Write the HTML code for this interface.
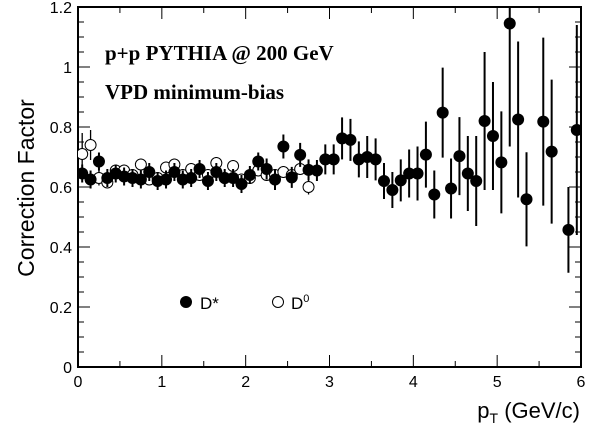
<!DOCTYPE html>
<html><head><meta charset="utf-8"><style>
body{margin:0;background:#fff}
svg{display:block;font-family:"Liberation Sans",sans-serif}
</style></head><body>
<svg id="chart" width="600" height="431">
<g id="axes"></g><g id="marks"></g>
<text x="105" y="60" font-family="Liberation Serif" font-weight="bold" font-size="21">p+p PYTHIA @ 200 GeV</text>
<text x="105" y="99" font-family="Liberation Serif" font-weight="bold" font-size="21">VPD minimum-bias</text>
<text transform="translate(34,188) rotate(-90)" text-anchor="middle" font-size="23">Correction Factor</text>
<text x="580" y="418" text-anchor="end" font-size="22">p<tspan font-size="14" dy="5">T</tspan><tspan dy="-5"> (GeV/c)</tspan></text>
<g>
<circle cx="186" cy="302" r="6" fill="#000"/>
<text x="200" y="309" font-size="17">D*</text>
<circle cx="278" cy="302" r="5.5" fill="#fff" stroke="#000" stroke-width="1"/>
<text x="291" y="309" font-size="17">D<tspan font-size="11" dy="-7">0</tspan></text>
</g>
</svg>
<script>
const dstarPt=[0.05,0.15,0.25,0.35,0.45,0.55,0.65,0.75,0.85,0.95,1.05,1.15,1.25,1.35,1.45,1.55,1.65,1.75,1.85,1.95,2.05,2.15,2.25,2.35,2.45,2.55,2.65,2.75,2.85,2.95,3.05,3.15,3.25,3.35,3.45,3.55,3.65,3.75,3.85,3.95,4.05,4.15,4.25,4.35,4.45,4.55,4.65,4.75,4.85,4.95,5.05,5.15,5.25,5.35,5.55,5.65,5.85,5.95];
const dstarVal=[0.645,0.625,0.685,0.63,0.645,0.635,0.63,0.625,0.65,0.62,0.625,0.65,0.625,0.63,0.66,0.62,0.65,0.63,0.63,0.61,0.64,0.685,0.66,0.625,0.735,0.632,0.707,0.657,0.655,0.692,0.692,0.762,0.757,0.692,0.70,0.692,0.62,0.59,0.622,0.645,0.645,0.708,0.575,0.848,0.595,0.703,0.645,0.62,0.82,0.77,0.682,1.145,0.825,0.559,0.818,0.718,0.457,0.79];
const dstarErr=[0.03,0.03,0.03,0.03,0.03,0.03,0.03,0.03,0.03,0.03,0.03,0.03,0.03,0.03,0.03,0.03,0.03,0.03,0.03,0.03,0.03,0.03,0.035,0.035,0.04,0.035,0.04,0.035,0.035,0.05,0.05,0.07,0.07,0.06,0.07,0.07,0.06,0.06,0.07,0.08,0.09,0.11,0.08,0.15,0.1,0.13,0.125,0.15,0.23,0.18,0.17,0.41,0.26,0.157,0.28,0.24,0.143,0.35];
const d0Pt=[0.05,0.15,0.25,0.35,0.45,0.55,0.65,0.75,0.85,0.95,1.05,1.15,1.25,1.35,1.45,1.55,1.65,1.75,1.85,1.95,2.05,2.15,2.25,2.35,2.45,2.55,2.65,2.75];
const d0Val=[0.71,0.74,0.63,0.615,0.655,0.655,0.64,0.675,0.625,0.63,0.665,0.675,0.64,0.66,0.64,0.64,0.68,0.63,0.67,0.625,0.63,0.655,0.64,0.64,0.65,0.64,0.66,0.60];
const d0Err=[0.07,0.05,0.025,0.02,0.02,0.02,0.02,0.02,0.02,0.02,0.02,0.02,0.02,0.02,0.02,0.02,0.02,0.02,0.02,0.02,0.02,0.02,0.02,0.02,0.02,0.02,0.02,0.025];
const xTicks=[0,1,2,3,4,5,6];
const yTicks=[0,0.2,0.4,0.6,0.8,1,1.2];
const yTickLabels=["0","0.2","0.4","0.6","0.8","1","1.2"];

const X0=78,X1=581,Y0=367,Y1=7;
const sx=v=>X0+(v-0)/(6-0)*(X1-X0);
const sy=v=>Y0-(v-0)/(1.2-0)*(Y0-Y1);
const NS="http://www.w3.org/2000/svg";
const axes=document.getElementById('axes'),marks=document.getElementById('marks');
function mk(tag,attrs,parent){const e=document.createElementNS(NS,tag);for(const k in attrs)e.setAttribute(k,attrs[k]);parent.appendChild(e);return e;}
const frame=mk('rect',{x:X0,y:Y1,width:X1-X0,height:Y0-Y1,fill:'none',stroke:'#000','stroke-width':2},axes);


for(let i=0;i<=12;i++){const v=i*0.5,x=sx(v),L=(i%2===0)?12:6;
 mk('line',{x1:x,x2:x,y1:Y0,y2:Y0-L,stroke:'#000','stroke-width':1},axes);
 mk('line',{x1:x,x2:x,y1:Y1,y2:Y1+L,stroke:'#000','stroke-width':1},axes);}
for(let i=0;i<=24;i++){const v=i*0.05,y=sy(v),L=(i%4===0)?12:6;
 mk('line',{x1:X0,x2:X0+L,y1:y,y2:y,stroke:'#000','stroke-width':1},axes);
 mk('line',{x1:X1,x2:X1-L,y1:y,y2:y,stroke:'#000','stroke-width':1},axes);}
xTicks.forEach(v=>{const t=mk('text',{x:sx(v),y:Y0+20,'text-anchor':'middle','font-size':16},axes);t.textContent=v;
 
 });
yTicks.forEach((v,i)=>{const t=mk('text',{x:X0-6,y:sy(v)+6,'text-anchor':'end','font-size':16},axes);t.textContent=yTickLabels[i];
 
 });
const clip=mk('clipPath',{id:'pc'},marks);mk('rect',{x:X0,y:Y1,width:X1-X0,height:Y0-Y1},clip);
const g=mk('g',{'clip-path':'url(#pc)'},marks);
d0Pt.forEach((p,i)=>{const x=sx(p),y=sy(d0Val[i]);
 mk('line',{x1:x,x2:x,y1:sy(d0Val[i]+d0Err[i]),y2:sy(d0Val[i]-d0Err[i]),stroke:'#000','stroke-width':1.3},g);
 const c=mk('circle',{cx:x,cy:y,r:5.5,fill:'#fff',stroke:'#000','stroke-width':1},g);
 
 });
dstarPt.forEach((p,i)=>{const x=sx(p),y=sy(dstarVal[i]);
 mk('line',{x1:x,x2:x,y1:sy(dstarVal[i]+dstarErr[i]),y2:sy(dstarVal[i]-dstarErr[i]),stroke:'#000','stroke-width':2},g);
 const c=mk('circle',{cx:x,cy:y,r:6,fill:'#000'},g);
 
 });
</script>
</body></html>
